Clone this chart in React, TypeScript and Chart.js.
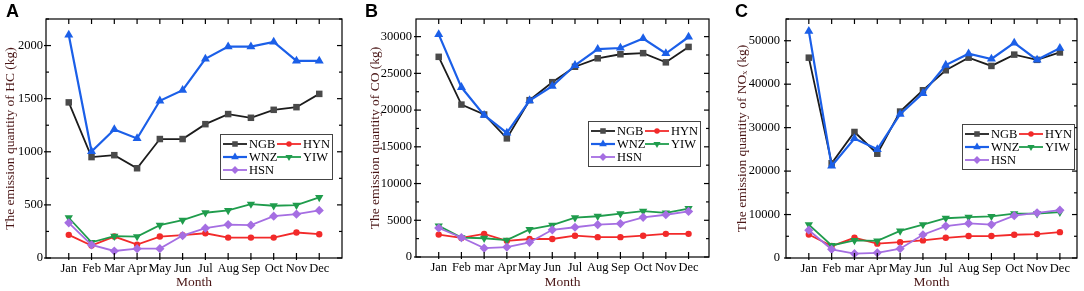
import React, { useEffect, useRef } from 'react';
import { Chart, registerables } from 'chart.js';
Chart.register(...registerables);

// ---------- data ----------
const monthsA = ['Jan', 'Feb', 'Mar', 'Apr', 'May', 'Jun', 'Jul', 'Aug', 'Sep', 'Oct', 'Nov', 'Dec'];
const monthsBC = ['Jan', 'Feb', 'mar', 'Apr', 'May', 'Jun', 'Jul', 'Aug', 'Sep', 'Oct', 'Nov', 'Dec'];
const seriesNames = ['NGB', 'HYN', 'WNZ', 'YIW', 'HSN'];

// Panel A: HC (kg)
const hcNGB = [1465, 950, 968, 845, 1120, 1120, 1260, 1355, 1320, 1395, 1420, 1545];
const hcHYN = [218, 117, 202, 126, 202, 215, 233, 192, 192, 192, 240, 224];
const hcWNZ = [2100, 1003, 1210, 1125, 1480, 1580, 1875, 1990, 1990, 2035, 1855, 1855];
const hcYIW = [379, 148, 205, 202, 309, 356, 426, 448, 508, 492, 498, 571];
const hcHSN = [331, 123, 66, 88, 88, 211, 281, 315, 309, 394, 413, 448];

// Panel B: CO (kg)
const coNGB = [27250, 20750, 19400, 16150, 21350, 23800, 25900, 27050, 27600, 27750, 26500, 28600];
const coHYN = [3050, 2600, 3150, 2200, 2450, 2450, 2900, 2700, 2700, 2900, 3150, 3150];
const coWNZ = [30300, 23100, 19300, 16900, 21300, 23250, 26100, 28300, 28450, 29750, 27700, 29950];
const coYIW = [4250, 2650, 2550, 2300, 3750, 4350, 5350, 5550, 5900, 6250, 6000, 6600];
const coHSN = [3950, 2650, 1200, 1350, 2000, 3700, 4050, 4400, 4550, 5400, 5750, 6200];

// Panel C: NOx (kg)
const noxNGB = [46100, 21800, 29000, 24000, 33700, 38600, 43200, 46100, 44200, 46800, 45600, 47300];
const noxHYN = [5400, 2750, 4650, 3300, 3650, 4050, 4650, 5050, 5050, 5350, 5500, 5950];
const noxWNZ = [52200, 21200, 27500, 25000, 33100, 37900, 44400, 47000, 45800, 49500, 45600, 48300];
const noxYIW = [7700, 2900, 4050, 3950, 6250, 7700, 9150, 9400, 9600, 10200, 10200, 10550];
const noxHSN = [6400, 2000, 1000, 1200, 2150, 5350, 7350, 7950, 7700, 9750, 10400, 11000];

// y tick values
const hcTicks = [0, 500, 1000, 1500, 2000];
const coTicks = [0, 5000, 10000, 15000, 20000, 25000, 30000];
const noxTicks = [0, 10000, 20000, 30000, 40000, 50000];

// ---------- styles ----------
const FONT = '"Liberation Serif", "Times New Roman", serif';
const TITLE_COLOR = '#4a1616';
const H = 291;

const seriesStyle: Record<string, any> = {
  NGB: { line: '#1c1c1c', fill: '#4a4a4a', shape: 'rect', r: 4.6, rot: 0, w: 1.8 },
  HYN: { line: '#f22a2a', fill: '#f22a2a', shape: 'circle', r: 3.2, rot: 0, w: 1.8 },
  WNZ: { line: '#1b5fe8', fill: '#1b5fe8', shape: 'triangle', r: 5.2, rot: 0, w: 2.2 },
  YIW: { line: '#1f9c4c', fill: '#1f9c4c', shape: 'triangle', r: 4.8, rot: 180, w: 1.8 },
  HSN: { line: '#a56ee2', fill: '#a56ee2', shape: 'rectRot', r: 4.6, rot: 0, w: 1.8 },
};

const panels = [
  {
    key: 'A', width: 360, left: 46, right: 342, top: 19, bottom: 258, xMax: 13,
    yMax: 2250, major: 500, minor: 250, yTicks: hcTicks,
    yTitle: 'The emission quantity of HC (kg)', titlePad: 2, tickPad: 3,
    labels: monthsA, series: [hcNGB, hcHYN, hcWNZ, hcYIW, hcHSN],
    legendRight: 122, legendTop: 115, letterX: 6,
  },
  {
    key: 'B', width: 360, left: 56, right: 349, top: 19, bottom: 257, xMax: 12.9,
    yMax: 32400, major: 5000, minor: 2500, yTicks: coTicks,
    yTitle: 'The emission quantity of CO (kg)', titlePad: 7, tickPad: 4,
    labels: monthsBC, series: [coNGB, coHYN, coWNZ, coYIW, coHSN],
    legendRight: 121, legendTop: 102, letterX: 5,
  },
  {
    key: 'C', width: 364, left: 66, right: 357, top: 19, bottom: 258, xMax: 12.75,
    yMax: 55000, major: 10000, minor: 5000, yTicks: noxTicks,
    yTitle: 'The emission quantity of NOₓ (kg)', titlePad: 14, tickPad: 6,
    labels: monthsBC, series: [noxNGB, noxHYN, noxWNZ, noxYIW, noxHSN],
    legendRight: 115, legendTop: 105, letterX: 15,
  },
];

function drawMarker(ctx: CanvasRenderingContext2D, shape: string, x: number, y: number, r: number, rot: number) {
  ctx.beginPath();
  if (shape === 'circle') {
    ctx.arc(x, y, r, 0, Math.PI * 2);
  } else if (shape === 'rect') {
    const s = r * Math.SQRT1_2;
    ctx.rect(x - s, y - s, 2 * s, 2 * s);
  } else if (shape === 'rectRot') {
    ctx.moveTo(x, y - r);
    ctx.lineTo(x + r, y);
    ctx.lineTo(x, y + r);
    ctx.lineTo(x - r, y);
    ctx.closePath();
  } else if (shape === 'triangle') {
    let a = (rot * Math.PI) / 180;
    ctx.moveTo(x + Math.sin(a) * r, y - Math.cos(a) * r);
    a += (2 * Math.PI) / 3;
    ctx.lineTo(x + Math.sin(a) * r, y - Math.cos(a) * r);
    a += (2 * Math.PI) / 3;
    ctx.lineTo(x + Math.sin(a) * r, y - Math.cos(a) * r);
    ctx.closePath();
  }
  ctx.fill();
}

const decoPlugin = {
  id: 'panelDeco',
  afterDatasetsDraw(chart: any, _args: any, opts: any) {
    const { ctx, chartArea, scales } = chart;
    const { left, right, top, bottom } = chartArea;
    const x = scales.x;
    const y = scales.y;
    ctx.save();
    ctx.strokeStyle = '#000';
    ctx.lineWidth = 1.2;
    ctx.strokeRect(left, top, right - left, bottom - top);
    const line = (x1: number, y1: number, x2: number, y2: number) => {
      ctx.beginPath();
      ctx.moveTo(x1, y1);
      ctx.lineTo(x2, y2);
      ctx.stroke();
    };
    // y ticks (major + minor), both sides, inward
    for (let v = 0; v <= y.max + 1e-6; v += opts.minor) {
      const py = y.getPixelForValue(v);
      const q = v / opts.major;
      const major = Math.abs(q - Math.round(q)) < 1e-6;
      const inLen = major ? 5 : 3;
      const outLen = major ? 2 : 0;
      line(left - outLen, py, left + inLen, py);
      line(right - inLen, py, right, py);
    }
    // x ticks top and bottom
    for (let m = 1; m <= 12; m++) {
      const px = x.getPixelForValue(m);
      line(px, bottom - 5, px, bottom + 2);
      line(px, top, px, top + 5);
    }

    // legend box
    const bw = 112;
    const bh = 45;
    const bx = right - opts.legendRight;
    const by = top + opts.legendTop;
    ctx.fillStyle = '#fff';
    ctx.fillRect(bx, by, bw, bh);
    ctx.strokeStyle = '#444';
    ctx.lineWidth = 1;
    ctx.strokeRect(bx + 0.5, by + 0.5, bw, bh);
    const items = [
      { name: 'NGB', col: 0, row: 0 },
      { name: 'HYN', col: 1, row: 0 },
      { name: 'WNZ', col: 0, row: 1 },
      { name: 'YIW', col: 1, row: 1 },
      { name: 'HSN', col: 0, row: 2 },
    ];
    ctx.font = `12.5px ${FONT}`;
    ctx.textBaseline = 'middle';
    ctx.textAlign = 'left';
    items.forEach((it) => {
      const st = seriesStyle[it.name];
      const lx = bx + 3 + it.col * 54;
      const ly = by + 10 + it.row * 13;
      ctx.strokeStyle = st.line;
      ctx.lineWidth = st.w;
      line(lx, ly, lx + 24, ly);
      ctx.fillStyle = st.fill;
      drawMarker(ctx, st.shape, lx + 12, ly, st.r * 0.85, st.rot);
      ctx.fillStyle = '#000';
      ctx.fillText(it.name, lx + 26, ly + 0.5);
    });
    ctx.restore();
  },
};

function Panel({ p }: { p: any }) {
  const ref = useRef<HTMLCanvasElement | null>(null);
  useEffect(() => {
    if (!ref.current) return;
    const datasets = seriesNames.map((name, si) => {
      const st = seriesStyle[name];
      return {
        label: name,
        data: p.series[si].map((v: number, i: number) => ({ x: i + 1, y: v })),
        borderColor: st.line,
        backgroundColor: st.fill,
        pointBackgroundColor: st.fill,
        pointBorderColor: st.fill,
        pointBorderWidth: 0,
        pointStyle: st.shape,
        pointRotation: st.rot,
        pointRadius: st.r,
        borderWidth: st.w,
        tension: 0,
        order: 5 - si,
      };
    });
    const chart = new Chart(ref.current, {
      type: 'line',
      data: { datasets },
      plugins: [decoPlugin],
      options: {
        animation: false,
        responsive: true,
        maintainAspectRatio: false,
        devicePixelRatio: 1,
        layout: { padding: { top: p.top, right: p.width - p.right, bottom: 0, left: 0 } },
        plugins: {
          legend: { display: false },
          tooltip: { enabled: false },
          panelDeco: { major: p.major, minor: p.minor, legendRight: p.legendRight, legendTop: p.legendTop },
        } as any,
        scales: {
          x: {
            type: 'linear',
            min: 0,
            max: p.xMax,
            grid: { display: false, drawTicks: false },
            border: { display: false },
            afterBuildTicks: (s: any) => {
              s.ticks = p.labels.map((_: string, i: number) => ({ value: i + 1 }));
            },
            afterFit: (s: any) => {
              s.height = H - p.bottom;
            },
            ticks: {
              autoSkip: false,
              maxRotation: 0,
              padding: 3,
              color: '#000',
              font: { family: FONT, size: 12.5 },
              callback: (v: any) => p.labels[Math.round(Number(v)) - 1],
            },
            title: {
              display: true,
              text: 'Month',
              color: TITLE_COLOR,
              font: { family: FONT, size: 13.5 },
              padding: { top: 0, bottom: 0 },
            },
          },
          y: {
            type: 'linear',
            min: 0,
            max: p.yMax,
            grid: { display: false, drawTicks: false },
            border: { display: false },
            afterBuildTicks: (s: any) => {
              s.ticks = p.yTicks.map((v: number) => ({ value: v }));
            },
            afterFit: (s: any) => {
              s.width = p.left;
            },
            ticks: {
              padding: p.tickPad,
              color: '#000',
              font: { family: FONT, size: 12.5 },
              callback: (v: any) => String(v),
            },
            title: {
              display: true,
              text: p.yTitle,
              color: TITLE_COLOR,
              font: { family: FONT, size: 13.5 },
              padding: { top: p.titlePad, bottom: 0 },
            },
          },
        },
      } as any,
    });
    return () => chart.destroy();
  }, [p]);
  return (
    <div style={{ position: 'relative', width: p.width, height: H, flex: 'none' }}>
      <canvas ref={ref} />
      <div
        style={{
          position: 'absolute',
          left: p.letterX,
          top: 2,
          font: 'bold 18px "Liberation Sans", Arial, sans-serif',
          lineHeight: '18px',
          color: '#000',
        }}
      >
        {p.key}
      </div>
    </div>
  );
}

export default function App() {
  useEffect(() => {
    document.body.style.margin = '0';
    document.body.style.background = '#fff';
  }, []);
  return (
    <div style={{ display: 'flex', width: 1084, height: H, background: '#fff', overflow: 'hidden' }}>
      {panels.map((p) => (
        <Panel key={p.key} p={p} />
      ))}
    </div>
  );
}
